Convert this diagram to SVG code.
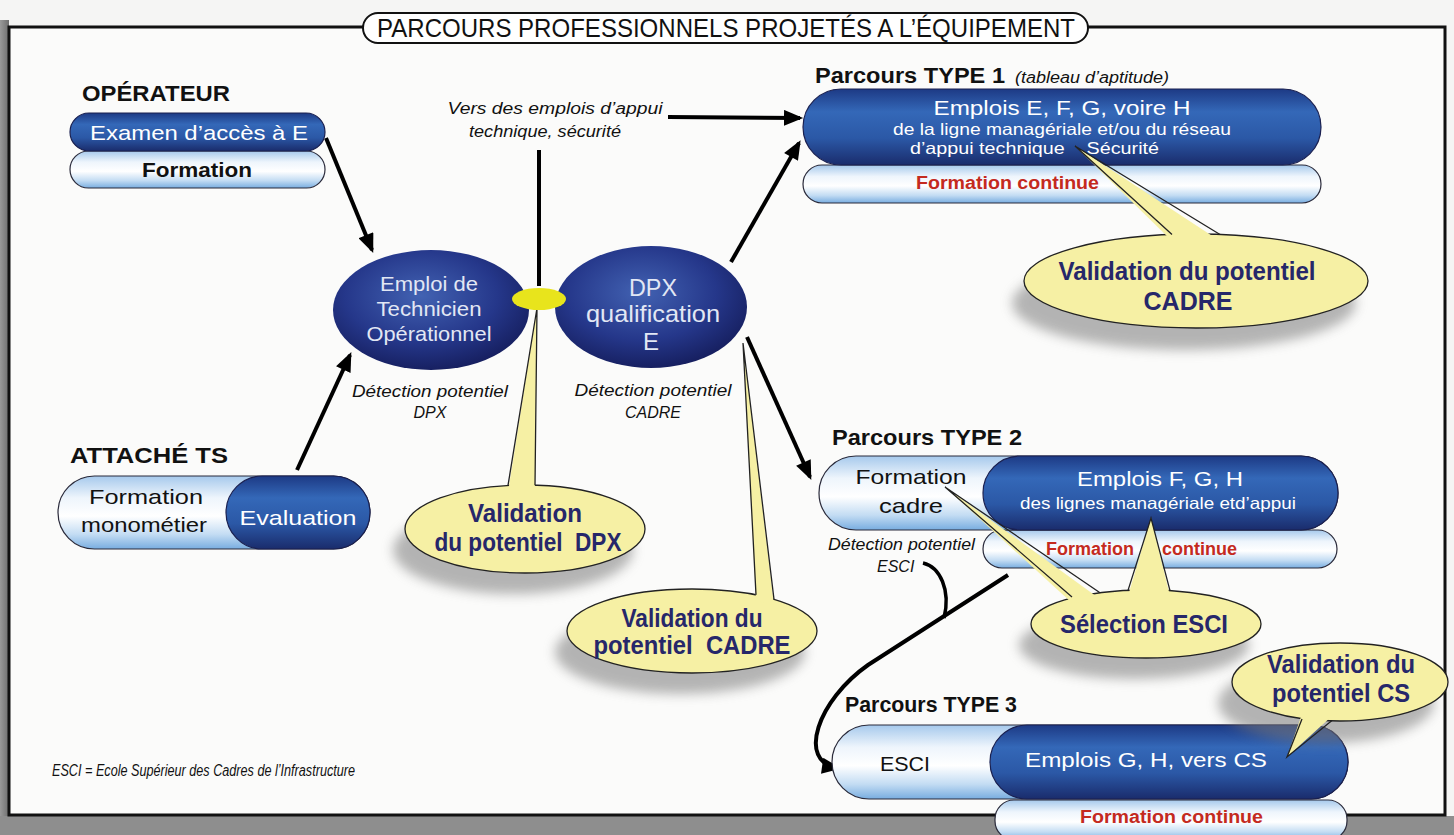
<svg xmlns="http://www.w3.org/2000/svg" width="1454" height="835" viewBox="0 0 1454 835">
<style>
text{font-family:"Liberation Sans",Arial,sans-serif}
.hd{font-weight:bold;font-size:22px;fill:#111}
.wt{fill:#fff;font-size:21px}
.wts{fill:#fff;font-size:16.5px}
.bk{fill:#111;font-size:21px}
.it{font-style:italic;font-size:16px;fill:#111}
.red{fill:#c42a1e;font-weight:bold;font-size:18px}
.co{fill:#26276a;font-weight:bold;font-size:25px}
.nt{fill:#e2e7f4}
.pillD{fill:url(#gDark);stroke:#1a2050;stroke-width:1.2}
.pillL{fill:url(#gLight);stroke:#2a2a3a;stroke-width:1.2}
.node{fill:url(#gNode)}
.bub{fill:#f6f0a4;stroke:#222;stroke-width:1.3}
.bubF{fill:#f6f0a4}
.ptr{fill:none;stroke:#222;stroke-width:1.3;stroke-linejoin:miter}
.sh{fill:#7a7a7a;opacity:.55;filter:url(#blur)}
.ln{fill:none;stroke:#000;stroke-width:4}
.ar{fill:none;stroke:#000;stroke-width:4;marker-end:url(#ah)}
</style>
<defs>
<linearGradient id="gDark" x1="0" y1="0" x2="0" y2="1">
<stop offset="0" stop-color="#1d3a85"/><stop offset=".3" stop-color="#3468b8"/><stop offset=".65" stop-color="#2b58a6"/><stop offset="1" stop-color="#1a2c6c"/>
</linearGradient>
<linearGradient id="gLight" x1="0" y1="0" x2="0" y2="1">
<stop offset="0" stop-color="#a6c9ec"/><stop offset=".3" stop-color="#eef5fc"/><stop offset=".55" stop-color="#ffffff"/><stop offset=".8" stop-color="#c3dcf3"/><stop offset="1" stop-color="#78ade0"/>
</linearGradient>
<radialGradient id="gNode" cx=".45" cy=".38" r=".65">
<stop offset="0" stop-color="#4262b2"/><stop offset=".6" stop-color="#25378a"/><stop offset="1" stop-color="#151d5c"/>
</radialGradient>
<linearGradient id="gLeft" x1="0" y1="0" x2="1" y2="0">
<stop offset="0" stop-color="#9a9a9a"/><stop offset="1" stop-color="#6e6e6e"/>
</linearGradient>
<filter id="blur" x="-30%" y="-30%" width="160%" height="160%"><feGaussianBlur stdDeviation="6"/></filter>
<marker id="ah" viewBox="0 0 12 10" refX="10" refY="5" markerWidth="5" markerHeight="4" markerUnits="strokeWidth" orient="auto">
<path d="M0,0 L12,5 L0,10 z" fill="#000"/>
</marker>
</defs>

<!-- background & frame -->
<rect x="0" y="0" width="1454" height="835" fill="#f5f5f4"/>
<rect x="0" y="20" width="9" height="815" fill="url(#gLeft)"/>
<rect x="0" y="816" width="1454" height="19" fill="#8e8e8e"/>
<rect x="9" y="27" width="1436" height="788" fill="#fbfbfa" stroke="#111" stroke-width="3"/>

<g id="title">
<rect x="363" y="13" width="725" height="30" rx="15" fill="#fff" stroke="#111" stroke-width="2"/>
<text x="377" y="37" font-size="26" fill="#111" textLength="698" lengthAdjust="spacingAndGlyphs">PARCOURS PROFESSIONNELS PROJETÉS A L’ÉQUIPEMENT</text>
</g>

<g id="connectors">
<path class="ar" d="M326,138 L372,250"/>
<path class="ar" d="M297,470 L350,355"/>
<path class="ar" d="M668,117 L800,118"/>
<path class="ln" d="M539,150 L539,286"/>
<path class="ar" d="M731,262 L799,143"/>
<path class="ar" d="M747,337 L810,477"/>
<path class="ar" d="M1008,575 L868,665 C818,700 796,762 838,768"/>
<path fill="none" stroke="#000" stroke-width="3.5" d="M923,563 C940,567 951,590 944,618"/>
</g>

<g id="operateur">
<text class="hd" x="82" y="101" textLength="148" lengthAdjust="spacingAndGlyphs">OPÉRATEUR</text>
<rect class="pillL" x="70" y="151" width="255" height="37" rx="18.5"/>
<rect class="pillD" x="70" y="113" width="255" height="38" rx="19"/>
<text class="wt" x="199" y="140" text-anchor="middle" textLength="218" lengthAdjust="spacingAndGlyphs">Examen d’accès à E</text>
<text class="bk" x="197" y="177" text-anchor="middle" font-weight="bold" font-size="20" textLength="110" lengthAdjust="spacingAndGlyphs">Formation</text>
</g>

<g id="attache">
<text class="hd" x="70" y="463" textLength="158" lengthAdjust="spacingAndGlyphs">ATTACHÉ  TS</text>
<rect class="pillL" x="58" y="476" width="312" height="73" rx="36.5"/>
<rect class="pillD" x="226" y="476" width="144" height="73" rx="36.5"/>
<text class="bk" x="146" y="504" text-anchor="middle" font-size="23" textLength="114" lengthAdjust="spacingAndGlyphs">Formation</text>
<text class="bk" x="144" y="532" text-anchor="middle" font-size="23" textLength="126" lengthAdjust="spacingAndGlyphs">monométier</text>
<text class="wt" x="298" y="525" text-anchor="middle" font-size="23" textLength="117" lengthAdjust="spacingAndGlyphs">Evaluation</text>
</g>

<g id="vers-label">
<text class="it" x="555" y="114" text-anchor="middle" textLength="215" lengthAdjust="spacingAndGlyphs">Vers des emplois d’appui</text>
<text class="it" x="545" y="137" text-anchor="middle" textLength="152" lengthAdjust="spacingAndGlyphs">technique, sécurité</text>
</g>

<g id="emploi-technicien">
<ellipse class="node" cx="431" cy="310" rx="98" ry="60"/>
<text class="nt" x="429" y="291" text-anchor="middle" font-size="21" textLength="98" lengthAdjust="spacingAndGlyphs">Emploi de</text>
<text class="nt" x="429" y="316" text-anchor="middle" font-size="21" textLength="105" lengthAdjust="spacingAndGlyphs">Technicien</text>
<text class="nt" x="429" y="341" text-anchor="middle" font-size="21" textLength="125" lengthAdjust="spacingAndGlyphs">Opérationnel</text>
<text class="it" x="430" y="397" text-anchor="middle" textLength="156" lengthAdjust="spacingAndGlyphs">Détection potentiel</text>
<text class="it" x="430" y="418" text-anchor="middle">DPX</text>
</g>

<g id="dpx-qualification">
<ellipse class="node" cx="651" cy="307" rx="96" ry="61"/>
<text class="nt" x="653" y="296" text-anchor="middle" font-size="24" textLength="48" lengthAdjust="spacingAndGlyphs">DPX</text>
<text class="nt" x="653" y="322" text-anchor="middle" font-size="24" textLength="134" lengthAdjust="spacingAndGlyphs">qualification</text>
<text class="nt" x="651" y="350" text-anchor="middle" font-size="24">E</text>
<text class="it" x="653" y="396" text-anchor="middle" textLength="157" lengthAdjust="spacingAndGlyphs">Détection potentiel</text>
<text class="it" x="653" y="418" text-anchor="middle">CADRE</text>
</g>

<g id="callout-dpx">
<ellipse class="sh" cx="513" cy="550" rx="120" ry="44"/>
<ellipse class="bub" cx="525" cy="529" rx="120" ry="44"/>
<polygon class="bubF" points="508,492 537,308 535,492"/>
<path class="ptr" d="M508,485.4 L537,308 L535,485.2"/>
<text class="co" x="525" y="522" text-anchor="middle" textLength="114" lengthAdjust="spacingAndGlyphs">Validation</text>
<text class="co" x="528" y="551" text-anchor="middle" textLength="187" lengthAdjust="spacingAndGlyphs" xml:space="preserve">du potentiel  DPX</text>
</g>

<g id="junction">
<ellipse cx="539" cy="299" rx="27" ry="11" fill="#e8e41c"/>
</g>

<g id="callout-cadre-2">
<ellipse class="sh" cx="680" cy="652" rx="125" ry="42"/>
<ellipse class="bub" cx="692" cy="631" rx="125" ry="42"/>
<polygon class="bubF" points="756,601 743,343 774,605"/>
<path class="ptr" d="M756,594.9 L743,343 L774,599.3"/>
<text class="co" x="692" y="627" text-anchor="middle" textLength="141" lengthAdjust="spacingAndGlyphs">Validation du</text>
<text class="co" x="692" y="654" text-anchor="middle" textLength="197" lengthAdjust="spacingAndGlyphs" xml:space="preserve">potentiel  CADRE</text>
</g>

<g id="type1">
<text class="hd" x="815" y="83" font-size="21" textLength="190" lengthAdjust="spacingAndGlyphs">Parcours TYPE 1</text>
<text class="it" x="1015" y="83" font-size="15" textLength="154" lengthAdjust="spacingAndGlyphs">(tableau d’aptitude)</text>
<rect class="pillL" x="803" y="165" width="518" height="38" rx="19"/>
<rect class="pillD" x="803" y="89" width="518" height="76" rx="38"/>
<text class="wt" x="1062" y="115" text-anchor="middle" font-size="22" textLength="257" lengthAdjust="spacingAndGlyphs">Emplois E, F, G, voire H</text>
<text class="wts" x="1062" y="135" text-anchor="middle" textLength="338" lengthAdjust="spacingAndGlyphs">de la ligne managériale et/ou du réseau</text>
<text class="wts" x="910" y="154" textLength="249" lengthAdjust="spacingAndGlyphs" xml:space="preserve">d’appui technique    Sécurité</text>
<text class="red" x="916" y="189" textLength="183" lengthAdjust="spacingAndGlyphs">Formation continue</text>
</g>

<g id="callout-cadre-1">
<ellipse class="sh" cx="1184" cy="303" rx="172" ry="47"/>
<ellipse class="bub" cx="1196" cy="281" rx="172" ry="47"/>
<polygon class="bubF" points="1172,241 1075,146 1220,241"/>
<path class="ptr" d="M1172,234.5 L1075,146 L1220,234.5"/>
<text class="co" x="1187" y="280" text-anchor="middle" textLength="257" lengthAdjust="spacingAndGlyphs">Validation du potentiel</text>
<text class="co" x="1188" y="310" text-anchor="middle">CADRE</text>
</g>

<g id="type2">
<text class="hd" x="832" y="445" font-size="21" textLength="190" lengthAdjust="spacingAndGlyphs">Parcours TYPE 2</text>
<rect class="pillL" x="983" y="530" width="354" height="38" rx="19"/>
<rect class="pillL" x="819" y="456" width="519" height="74" rx="37"/>
<rect class="pillD" x="983" y="456" width="355" height="74" rx="37"/>
<text class="bk" x="911" y="484" text-anchor="middle" font-size="24" textLength="111" lengthAdjust="spacingAndGlyphs">Formation</text>
<text class="bk" x="911" y="513" text-anchor="middle" font-size="24" textLength="64" lengthAdjust="spacingAndGlyphs">cadre</text>
<text class="wt" x="1160" y="486" text-anchor="middle" font-size="23" textLength="166" lengthAdjust="spacingAndGlyphs">Emplois F, G, H</text>
<text class="wts" x="1158" y="509" text-anchor="middle" font-size="17.5" textLength="276" lengthAdjust="spacingAndGlyphs">des lignes managériale etd’appui</text>
<text class="red" x="1046" y="555">Formation</text>
<text class="red" x="1162" y="555">continue</text>
<text class="it" x="828" y="550" font-size="15.5" textLength="147" lengthAdjust="spacingAndGlyphs">Détection potentiel</text>
<text class="it" x="877" y="572" font-size="15.5">ESCI</text>
</g>

<g id="callout-esci">
<ellipse class="sh" cx="1134" cy="645" rx="115" ry="34"/>
<ellipse class="bub" cx="1146" cy="624" rx="115" ry="34"/>
<polygon class="bubF" points="1072,603 945,487 1100,599"/>
<path class="ptr" d="M1072,597 L945,487 L1100,592.8"/>
<polygon class="bubF" points="1128,596 1151,518 1170,596"/>
<path class="ptr" d="M1128,590.4 L1151,518 L1170,590.7"/>
<text class="co" x="1144" y="633" text-anchor="middle" textLength="168" lengthAdjust="spacingAndGlyphs">Sélection ESCI</text>
</g>

<g id="type3">
<text class="hd" x="845" y="712" font-size="21" textLength="172" lengthAdjust="spacingAndGlyphs">Parcours TYPE 3</text>
<rect class="pillL" x="995" y="800" width="352" height="40" rx="19"/>
<rect class="pillL" x="832" y="725" width="516" height="74" rx="37"/>
<rect class="pillD" x="990" y="725" width="358" height="74" rx="37"/>
<text class="bk" x="905" y="771" text-anchor="middle" font-size="24" textLength="50" lengthAdjust="spacingAndGlyphs">ESCI</text>
<text class="wt" x="1025" y="767" font-size="22" textLength="242" lengthAdjust="spacingAndGlyphs">Emplois G, H, vers CS</text>
<text class="red" x="1080" y="823" textLength="183" lengthAdjust="spacingAndGlyphs">Formation continue</text>
</g>

<g id="callout-cs">
<ellipse class="sh" cx="1326" cy="703" rx="108" ry="40"/>
<ellipse class="bub" cx="1340" cy="682" rx="108" ry="39"/>
<polygon class="bubF" points="1302,714 1287,757 1332,716"/>
<path class="ptr" d="M1302,719 L1287,757 L1332,720.5"/>
<text class="co" x="1341" y="673" text-anchor="middle" textLength="148" lengthAdjust="spacingAndGlyphs">Validation du</text>
<text class="co" x="1341" y="702" text-anchor="middle" textLength="138" lengthAdjust="spacingAndGlyphs">potentiel CS</text>
</g>

<g id="footnote">
<text class="it" x="52" y="776" font-size="15.5" textLength="303" lengthAdjust="spacingAndGlyphs">ESCI = Ecole Supérieur des Cadres de l’Infrastructure</text>
</g>
</svg>
